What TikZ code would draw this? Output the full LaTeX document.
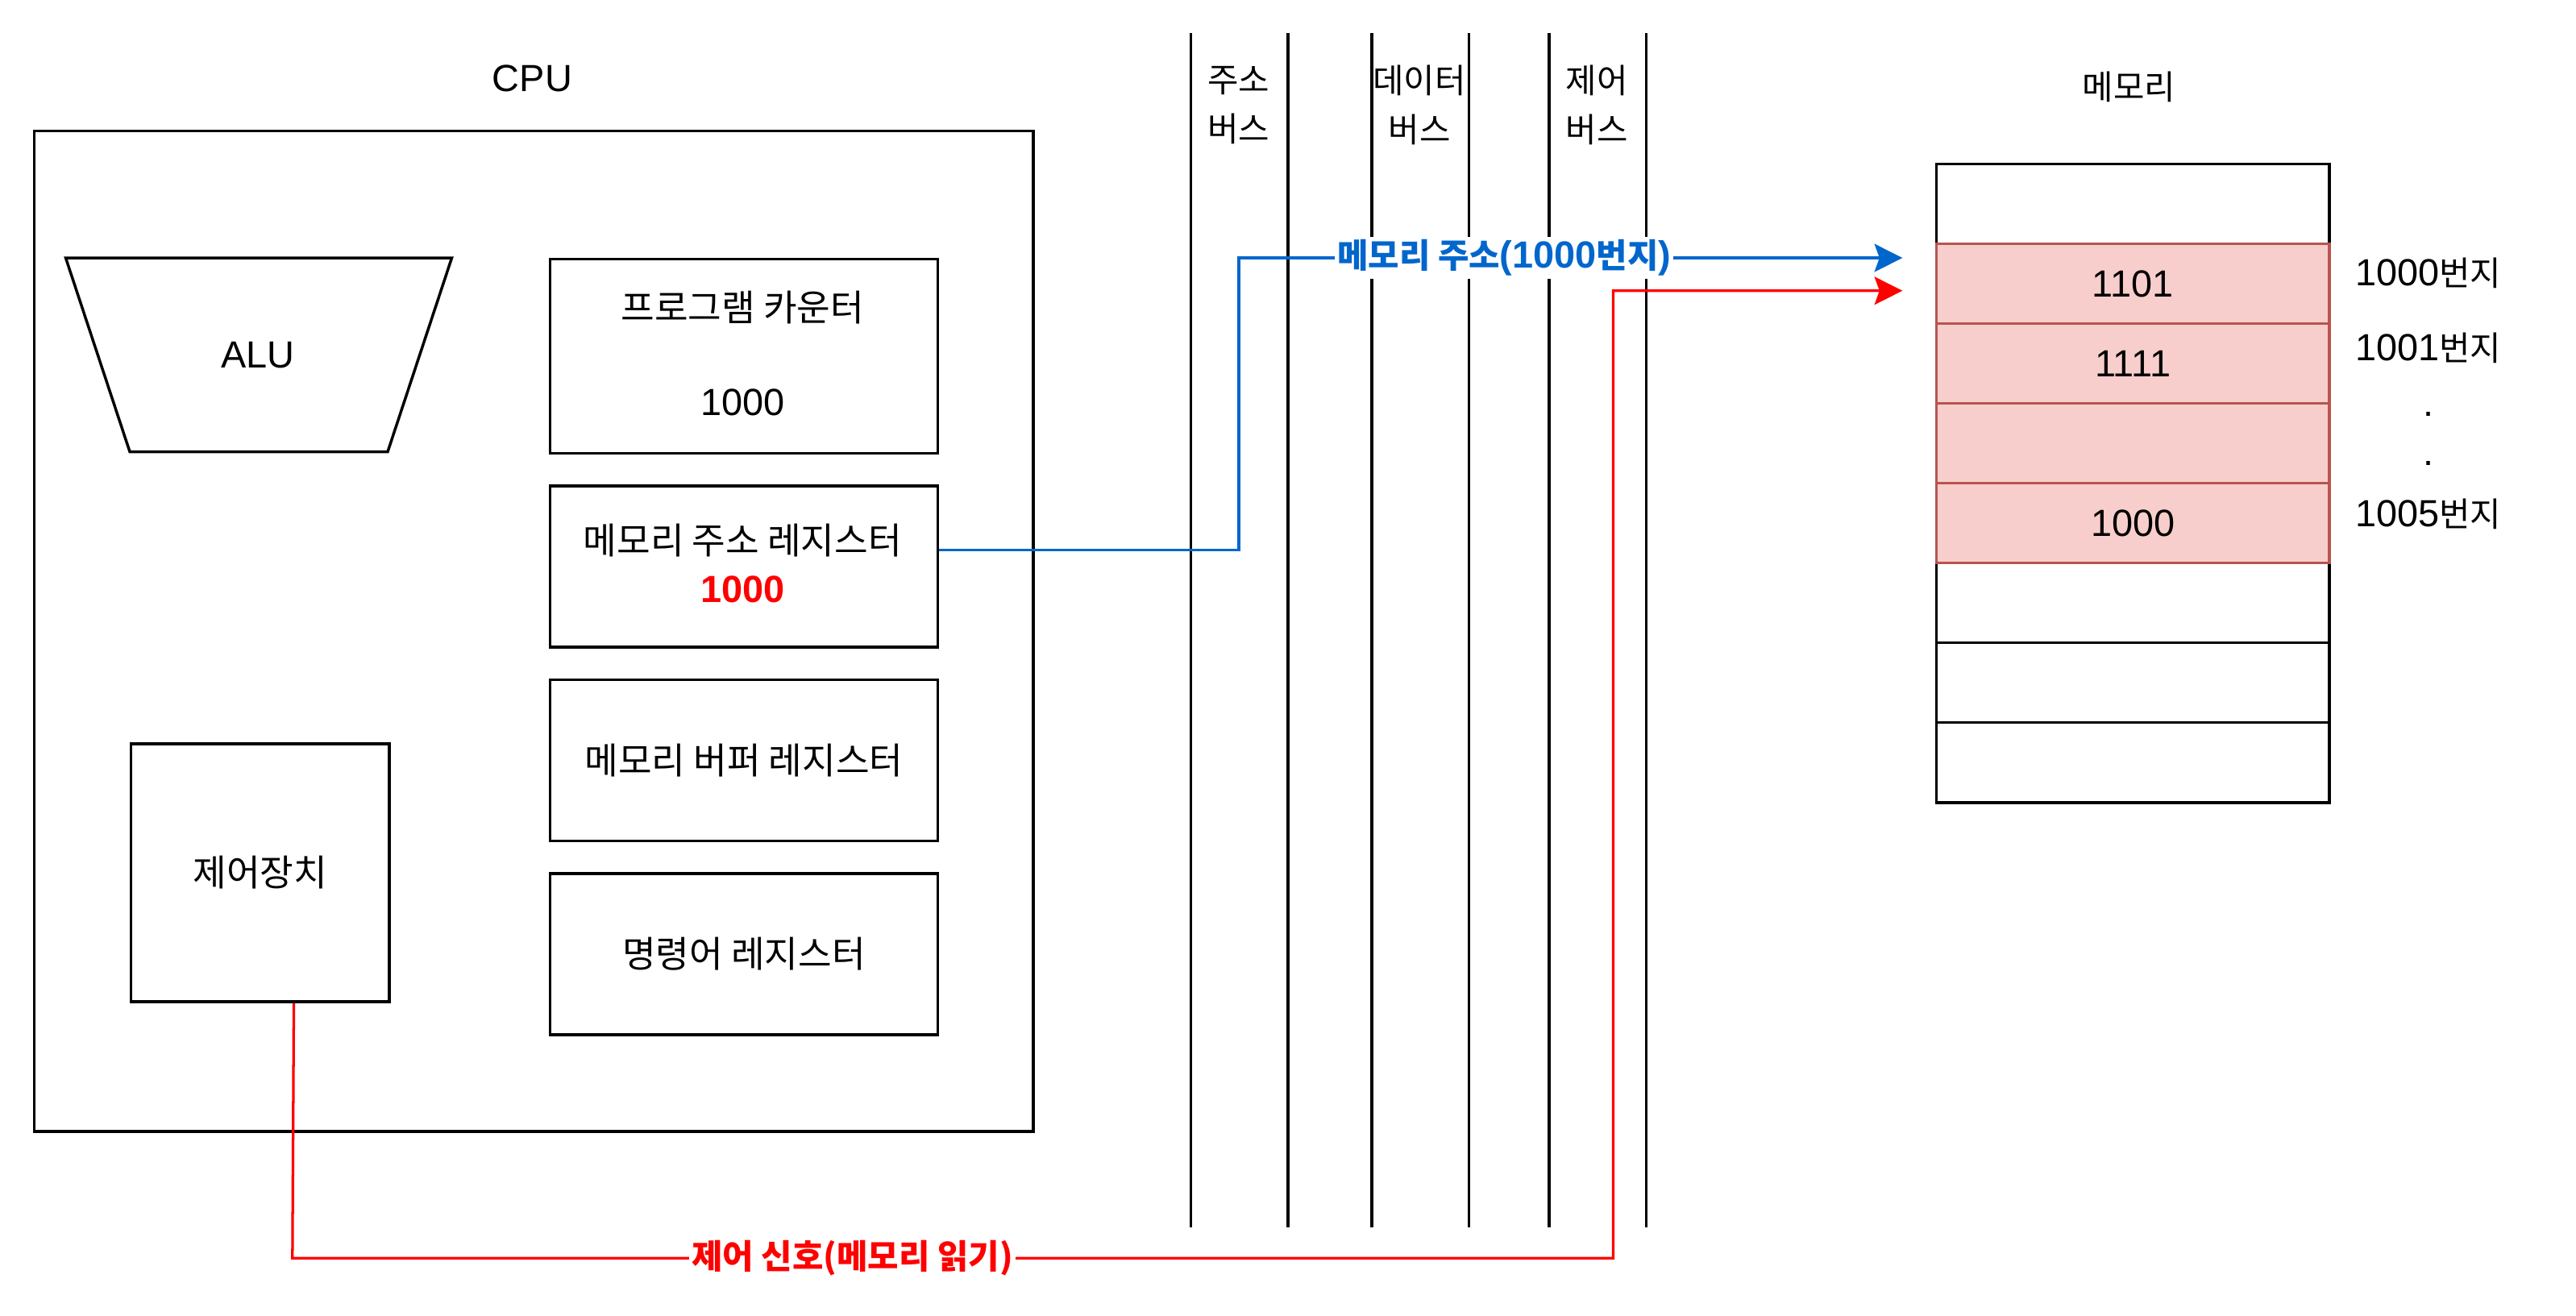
\documentclass[tikz,border=0pt]{standalone}
\usepackage{fontspec}
\setmainfont{Liberation Sans}
\newfontfamily\kr{Noto Sans CJK KR}
\usetikzlibrary{arrows.meta}
\definecolor{pinkfill}{HTML}{F8CECC}
\definecolor{pinkline}{HTML}{B85450}
\definecolor{busblue}{HTML}{0066CC}
\definecolor{sigred}{HTML}{FF0000}
\newcommand{\ksz}{\fontsize{20.5}{30}\selectfont}
\newcommand{\kbig}{\fontsize{22.2}{30}\selectfont}
\newcommand{\lsz}{\fontsize{23}{30}\selectfont}
\begin{document}
\begin{tikzpicture}[x=1pt,y=-1pt,
  blk/.style={draw=black,line width=1.7pt},
  regbox/.style={blk,anchor=north west,minimum width=236pt,inner sep=0pt,font=\kr\kbig},
  cell/.style={draw=black,line width=1.6pt,fill=white,anchor=north west,minimum width=239pt,minimum height=48.6pt,inner sep=0pt,font=\lsz},
  pinkcell/.style={cell,draw=pinkline,fill=pinkfill},
  kt/.style={font=\kr\ksz,inner sep=0pt,align=center},
  kbt/.style={font=\kr\kbig,inner sep=0pt,align=center},
  lt/.style={font=\lsz,inner sep=0pt},
  busline/.style={draw=black,line width=1.6pt},
  tip/.style={-{Stealth[length=17pt,width=17pt,inset=3pt]}},
  blueconn/.style={draw=busblue,line width=1.6pt,tip},
  redconn/.style={draw=sigred,line width=1.6pt,tip},
]
\useasboundingbox (0,0) rectangle (1568,801);

% CPU
\node[lt] (cpulbl) at (324,48) {CPU};
\node[blk,anchor=north west,minimum width=608pt,minimum height=609pt,inner sep=0pt] (cpu) at (20,79) {};
\draw[blk] (40,157) -- (275,157) -- (236,275) -- (79,275) -- cycle;
\node[lt] (alu) at (157,216) {ALU};

\node[regbox,minimum height=118pt] (pc) at (334,157) {};
\node[kbt] (pct) at (452,187) {프로그램 카운터};
\node[lt] (pcv) at (452,245) {1000};

\node[regbox,minimum height=98pt] (mar) at (334,295) {};
\node[kbt] (mart) at (452,329) {메모리 주소 레지스터};
\node[inner sep=0pt,font=\lsz\bfseries,text=sigred] (marv) at (452,359) {1000};

\node[regbox,minimum height=98pt] (mbr) at (334,413) {메모리 버퍼 레지스터};
\node[regbox,minimum height=98pt] (ir) at (334,531) {명령어 레지스터};
\node[blk,anchor=north west,minimum width=157pt,minimum height=157pt,inner sep=0pt,font=\kr\kbig] (ctrl) at (79,452) {제어장치};

% buses
\foreach \n/\x in {1/725,2/784,3/835,4/894,5/943,6/1002}{
  \coordinate (bt\n) at (\x,20);
  \coordinate (bb\n) at (\x,747);
  \draw[busline] (bt\n) -- (bb\n);
}
\node[kt] (abus) at (754,64) {주소\\버스};
\node[kt] (dbus) at (864,64) {데이터\\버스};
\node[kt] (cbus) at (972,64) {제어\\버스};

% memory
\node[kt] (memlbl) at (1296,53) {메모리};
\node[cell] (m0) at (1178,99) {};
\node[cell] (m5) at (1178,342) {};
\node[cell] (m6) at (1178,390.6) {};
\node[cell] (m7) at (1178,439.2) {};
\node[pinkcell] (m1) at (1178,147.6) {1101};
\node[pinkcell] (m2) at (1178,196.2) {1111};
\node[pinkcell] (m3) at (1178,244.8) {};
\node[pinkcell] (m4) at (1178,293.4) {1000};

\node[lt] (a1000) at (1478,166) {1000{\kr\ksz 번지}};
\node[lt] (a1001) at (1478,212) {1001{\kr\ksz 번지}};
\node[lt] (dot1) at (1478,252) {.};
\node[lt] (dot2) at (1478,282) {.};
\node[lt] (a1005) at (1478,313) {1005{\kr\ksz 번지}};

% connectors
\coordinate (abend) at (754,157);
\coordinate (atip) at (1158,157);
\draw[blueconn] ([yshift=10pt]mar.east) -| (abend) -- node[pos=0.4,fill=white,inner sep=1.5pt,text=busblue,font=\lsz\bfseries]{{\kr\ksz\bfseries 메모리 주소}(1000{\kr\ksz\bfseries 번지})} (atip);

\coordinate (cleft) at (178,766);
\coordinate (cright) at (982,766);
\coordinate (cup) at (982,177);
\coordinate (ctip) at (1158,177);
\draw[redconn] ([xshift=20.5pt]ctrl.south) -- (cleft) -- node[pos=0.424,fill=white,inner sep=1.5pt,text=sigred,font=\kr\ksz\bfseries]{제어 신호(메모리 읽기)} (cright) -- (cup) -- (ctip);
\end{tikzpicture}
\end{document}
